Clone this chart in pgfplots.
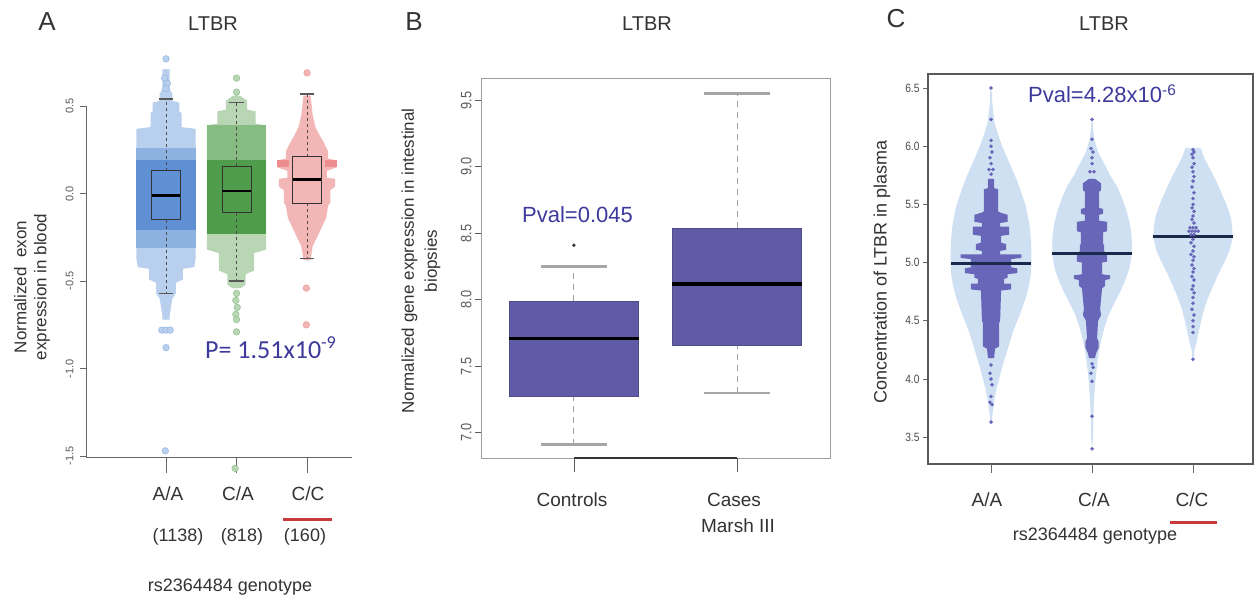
\documentclass[border=0pt]{standalone}
\usepackage{pgfplots}
\usepackage{pgfplotstable}
\pgfplotsset{compat=1.18}
\usepackage{fontspec}
\setmainfont{Liberation Sans}
\newfontfamily\carlito{Carlito}
\newfontfamily\narrow[FakeStretch=0.85]{Liberation Sans}

\definecolor{ptxt}{HTML}{3D3A9C}
\definecolor{boxB}{HTML}{5F5BA6}
\definecolor{violin}{HTML}{CFE0F3}
\definecolor{dots}{HTML}{6866B8}
\definecolor{medC}{HTML}{1B2A4C}
\definecolor{bl1}{HTML}{B8CFEE}
\definecolor{bl2}{HTML}{8DB2E2}
\definecolor{bl3}{HTML}{5E90D3}
\definecolor{gr1}{HTML}{B8D5B4}
\definecolor{gr2}{HTML}{86BC82}
\definecolor{gr3}{HTML}{4F9D4C}
\definecolor{rd1}{HTML}{F3B6B6}
\definecolor{rd2}{HTML}{EC8E8E}
\definecolor{capred}{HTML}{C8393C}
\definecolor{txt}{HTML}{333333}

% ---------- Panel A swarm outlines (y, half width) ----------
\pgfplotstableread{
y hw
0.71 -0.02
0.71 0.05
0.60 0.05
0.57 0.09
0.53 0.09
0.52 0.19
0.47 0.19
0.46 0.22
0.38 0.22
0.37 0.42
-0.37 0.42
-0.42 0.40
-0.43 0.24
-0.49 0.24
-0.51 0.14
-0.57 0.14
-0.60 0.09
-0.70 0.05
-0.72 0.05
-0.72 -0.02
}\AAouter
\pgfplotstableread{
y hw
0.56 -0.02
0.56 0.05
0.53 0.15
0.48 0.15
0.47 0.27
0.40 0.27
0.39 0.42
-0.32 0.42
-0.34 0.25
-0.44 0.25
-0.46 0.13
-0.52 0.13
-0.54 0.06
-0.54 -0.02
}\CAouter
\pgfplotstableread{
y hw
0.56 -0.02
0.56 0.05
0.45 0.08
0.38 0.12
0.34 0.17
0.29 0.24
0.24 0.30
0.20 0.30
0.19 0.42
0.15 0.42
0.13 0.28
0.09 0.28
0.085 0.40
0.04 0.40
0.02 0.33
-0.05 0.33
-0.07 0.30
-0.14 0.27
-0.20 0.20
-0.26 0.13
-0.30 0.08
-0.38 0.05
-0.38 -0.02
}\CCouter

% ---------- Panel C violins (y, half width) ----------
\pgfplotstableread{
y hw
6.50 -0.01
6.40 0.01
6.30 0.02
6.20 0.035
6.10 0.07
6.00 0.11
5.90 0.16
5.80 0.21
5.70 0.26
5.60 0.30
5.50 0.34
5.40 0.365
5.30 0.385
5.20 0.395
5.10 0.40
5.00 0.40
4.90 0.395
4.80 0.375
4.70 0.345
4.60 0.305
4.50 0.26
4.40 0.215
4.30 0.18
4.20 0.145
4.10 0.11
4.00 0.08
3.90 0.05
3.80 0.03
3.70 0.015
3.63 -0.01
}\AAv
\pgfplotstableread{
y hw
6.23 -0.01
6.15 0.01
6.05 0.025
5.95 0.06
5.85 0.12
5.75 0.18
5.65 0.25
5.55 0.30
5.45 0.34
5.35 0.37
5.25 0.39
5.15 0.395
5.05 0.39
4.95 0.37
4.85 0.33
4.75 0.28
4.65 0.22
4.55 0.165
4.45 0.125
4.35 0.095
4.25 0.072
4.15 0.055
4.05 0.04
3.95 0.03
3.80 0.018
3.60 0.01
3.40 -0.01
}\CAv
\pgfplotstableread{
y hw
5.985 -0.01
5.985 0.075
5.90 0.11
5.80 0.17
5.70 0.23
5.60 0.28
5.50 0.33
5.40 0.37
5.30 0.39
5.20 0.39
5.10 0.36
5.00 0.31
4.90 0.25
4.80 0.20
4.70 0.15
4.60 0.11
4.50 0.08
4.40 0.055
4.30 0.03
4.17 -0.01
}\CCv

% ---------- Panel C dot swarms (y, half width) ----------
\pgfplotstableread{
y hw
5.72 -0.01
5.72 0.03
5.64 0.03
5.63 0.07
5.44 0.07
5.43 0.09
5.41 0.165
5.35 0.165
5.34 0.09
5.31 0.09
5.31 0.18
5.24 0.18
5.23 0.10
5.17 0.10
5.16 0.15
5.11 0.15
5.10 0.09
5.07 0.09
5.07 0.30
5.04 0.30
5.03 0.20
4.96 0.20
4.95 0.26
4.91 0.26
4.90 0.165
4.87 0.165
4.86 0.13
4.82 0.13
4.82 0.20
4.77 0.20
4.76 0.10
4.50 0.09
4.48 0.08
4.28 0.08
4.26 0.04
4.18 0.03
4.18 -0.01
}\AAs
\pgfplotstableread{
y hw
5.72 -0.01
5.72 0.03
5.68 0.09
5.62 0.09
5.61 0.07
5.47 0.07
5.46 0.11
5.42 0.11
5.41 0.07
5.36 0.07
5.35 0.15
5.27 0.15
5.26 0.11
5.16 0.11
5.15 0.12
5.10 0.12
5.06 0.15
5.01 0.15
5.00 0.10
4.90 0.10
4.89 0.18
4.86 0.18
4.85 0.13
4.80 0.13
4.78 0.10
4.60 0.08
4.55 0.09
4.50 0.06
4.35 0.05
4.32 0.066
4.27 0.066
4.22 0.04
4.18 0.03
4.18 -0.01
}\CAs

\begin{document}
\begin{tikzpicture}
\useasboundingbox (0pt,0pt) rectangle (1254pt,598pt);
\fill[white] (0pt,0pt) rectangle (1254pt,598pt);

% ---------------- titles ----------------
\node[font=\fontsize{26}{30}\selectfont, text=txt] at (47pt,576pt) {A};
\node[font=\fontsize{20}{24}\selectfont, text=txt] at (213pt,574pt) {LTBR};
\node[font=\fontsize{26}{30}\selectfont, text=txt] at (414pt,576pt) {B};
\node[font=\fontsize{20}{24}\selectfont, text=txt] at (647pt,574pt) {LTBR};
\node[font=\fontsize{26}{30}\selectfont, text=txt] at (896pt,579pt) {C};
\node[font=\fontsize{20}{24}\selectfont, text=txt] at (1104pt,574pt) {LTBR};

% ================= Panel A =================
\begin{axis}[at={(86pt,141pt)}, anchor=south west, scale only axis,
  width=266pt, height=402pt,
  xmin=-0.1348, xmax=3.638, ymin=-1.505, ymax=0.792, clip=false,
  axis lines=left, axis line style={draw=none,-},
  xtick=\empty, ytick={-1.5,-1,-0.5,0,0.5},
  tick align=outside, major tick length=6pt,
  tick style={gray!80!black, line width=0.8pt},
  /pgf/number format/fixed, /pgf/number format/fixed zerofill,
  /pgf/number format/precision=1, /pgf/number format/assume math mode=true,
  yticklabel style={rotate=90, anchor=south, font=\fontsize{11}{11}\selectfont, text=black!65, yshift=3pt},
]
\draw[gray!80!black, line width=0.8pt] (axis cs:-0.1348,0.5) -- (axis cs:-0.1348,-1.505) -- (axis cs:3.638,-1.505);
\draw[gray!80!black, line width=0.8pt] (axis cs:1,-1.505) -- ++(0pt,-16pt);
\draw[gray!80!black, line width=0.8pt] (axis cs:2,-1.505) -- ++(0pt,-16pt);
\draw[gray!80!black, line width=0.8pt] (axis cs:3,-1.505) -- ++(0pt,-16pt);

% A/A swarm
\addplot[fill=bl1, draw=none] table[x expr=1+\thisrow{hw}, y=y] {\AAouter} -- cycle;
\addplot[fill=bl1, draw=none] table[x expr=1-\thisrow{hw}, y=y] {\AAouter} -- cycle;
\addplot[fill=bl2, draw=none] coordinates {(0.58,0.26)(1.42,0.26)(1.42,-0.31)(0.58,-0.31)} -- cycle;
\addplot[fill=bl3, draw=none] coordinates {(0.58,0.19)(1.42,0.19)(1.42,-0.21)(0.58,-0.21)} -- cycle;
% C/A swarm
\addplot[fill=gr1, draw=none] table[x expr=2+\thisrow{hw}, y=y] {\CAouter} -- cycle;
\addplot[fill=gr1, draw=none] table[x expr=2-\thisrow{hw}, y=y] {\CAouter} -- cycle;
\addplot[fill=gr2, draw=none] coordinates {(1.58,0.39)(2.42,0.39)(2.42,0.19)(1.58,0.19)} -- cycle;
\addplot[fill=gr3, draw=none] coordinates {(1.58,0.19)(2.42,0.19)(2.42,-0.23)(1.58,-0.23)} -- cycle;
% C/C swarm
\addplot[fill=rd1, draw=none] table[x expr=3+\thisrow{hw}, y=y] {\CCouter} -- cycle;
\addplot[fill=rd1, draw=none] table[x expr=3-\thisrow{hw}, y=y] {\CCouter} -- cycle;
\addplot[fill=rd2, draw=none] coordinates {(2.58,0.15)(2.75,0.15)(2.75,0.19)(2.58,0.19)} -- cycle;
\addplot[fill=rd2, draw=none] coordinates {(3.25,0.15)(3.42,0.15)(3.42,0.19)(3.25,0.19)} -- cycle;

% tail points
\addplot[only marks, mark=*, mark size=3.3pt, mark options={fill=bl1, draw=bl2}] coordinates {
(1,0.77)(0.98,0.66)(1.02,0.63)(1,0.60)(0.94,-0.78)(1,-0.78)(1.06,-0.78)(1.0,-0.88)(0.99,-1.47)};
\addplot[only marks, mark=*, mark size=3.3pt, mark options={fill=gr1, draw=gr2}] coordinates {
(2,0.66)(2,0.58)(2.0,-0.57)(1.99,-0.61)(2.01,-0.65)(1.99,-0.69)(2.0,-0.72)(2.0,-0.79)(1.98,-1.57)};
\addplot[only marks, mark=*, mark size=3.3pt, mark options={fill=rd1, draw=rd2}] coordinates {
(3,0.69)(2.99,-0.54)(2.99,-0.75)};

% whiskers (dashed)
\addplot[black!70, dash pattern=on 3pt off 3pt, line width=0.8pt] coordinates {(1,0.13)(1,0.54)};
\addplot[black!70, dash pattern=on 3pt off 3pt, line width=0.8pt] coordinates {(1,-0.15)(1,-0.57)};
\addplot[black!70, dash pattern=on 3pt off 3pt, line width=0.8pt] coordinates {(2,0.155)(2,0.52)};
\addplot[black!70, dash pattern=on 3pt off 3pt, line width=0.8pt] coordinates {(2,-0.11)(2,-0.50)};
\addplot[black!70, dash pattern=on 3pt off 3pt, line width=0.8pt] coordinates {(3,0.21)(3,0.57)};
\addplot[black!70, dash pattern=on 3pt off 3pt, line width=0.8pt] coordinates {(3,-0.055)(3,-0.37)};
% caps
\addplot[black!65, line width=1.6pt] coordinates {(0.9,0.54)(1.1,0.54)};
\addplot[black!65, line width=1.6pt] coordinates {(0.9,-0.57)(1.1,-0.57)};
\addplot[black!65, line width=1.6pt] coordinates {(1.9,0.52)(2.1,0.52)};
\addplot[black!65, line width=1.6pt] coordinates {(1.9,-0.50)(2.1,-0.50)};
\addplot[black!65, line width=1.6pt] coordinates {(2.9,0.57)(3.1,0.57)};
\addplot[black!65, line width=1.6pt] coordinates {(2.9,-0.37)(3.1,-0.37)};
% boxes
\addplot[black!80, line width=0.9pt] coordinates {(0.795,-0.15)(1.205,-0.15)(1.205,0.13)(0.795,0.13)} -- cycle;
\addplot[black!80, line width=0.9pt] coordinates {(1.795,-0.11)(2.205,-0.11)(2.205,0.155)(1.795,0.155)} -- cycle;
\addplot[black!80, line width=0.9pt] coordinates {(2.795,-0.055)(3.205,-0.055)(3.205,0.21)(2.795,0.21)} -- cycle;
% medians
\addplot[black, line width=2.8pt] coordinates {(0.795,-0.01)(1.205,-0.01)};
\addplot[black, line width=2.8pt] coordinates {(1.795,0.015)(2.205,0.015)};
\addplot[black, line width=2.8pt] coordinates {(2.795,0.08)(3.205,0.08)};
\end{axis}

\node[rotate=90, align=center, font=\fontsize{17}{20}\selectfont, text=txt] at (32pt,311pt) {Normalized\ \ exon\\expression in blood};
\node[anchor=base west, font=\carlito\fontsize{26}{30}\selectfont, text=ptxt, inner sep=0pt] at (205pt,240pt) {P= 1.51x10\textsuperscript{-9}};
\begin{scope}[font=\fontsize{19}{22}\selectfont, text=txt]
\node at (168pt,104pt) {A/A};
\node at (238pt,104pt) {C/A};
\node at (308pt,104pt) {C/C};
\end{scope}
\begin{scope}[font=\fontsize{18}{22}\selectfont, text=txt]
\node at (178pt,61pt) {(1138)};
\node at (242pt,61pt) {(818)};
\node at (305pt,61pt) {(160)};
\node at (230pt,11pt) {rs2364484 genotype};
\end{scope}
\draw[capred, line width=3pt] (283pt,79pt) -- (332pt,79pt);

% ================= Panel B =================
\begin{axis}[at={(481pt,140pt)}, anchor=south west, scale only axis,
  width=349pt, height=379pt,
  xmin=0.43, xmax=2.57, ymin=6.81, ymax=9.66, clip=false,
  axis line style={draw=gray!75, line width=1pt},
  xtick=\empty, ytick={7,7.5,8,8.5,9,9.5}, ytick pos=left,
  tick align=outside, major tick length=6pt,
  tick style={gray!70!black, line width=0.8pt},
  /pgf/number format/fixed, /pgf/number format/fixed zerofill,
  /pgf/number format/precision=1, /pgf/number format/assume math mode=true,
  yticklabel style={rotate=90, anchor=south, font=\narrow\fontsize{15}{15}\selectfont, text=black!65},
]
\draw[gray!40!black, line width=1.6pt] (axis cs:1,6.81) -- (axis cs:2,6.81);
\draw[gray!70!black, line width=0.8pt] (axis cs:1,6.81) -- ++(0pt,-14pt);
\draw[gray!70!black, line width=0.8pt] (axis cs:2,6.81) -- ++(0pt,-14pt);
% whiskers
\addplot[gray!75, dash pattern=on 6pt off 5pt, line width=1pt] coordinates {(1,7.99)(1,8.25)};
\addplot[gray!75, dash pattern=on 6pt off 5pt, line width=1pt] coordinates {(1,6.91)(1,7.27)};
\addplot[gray!75, dash pattern=on 6pt off 5pt, line width=1pt] coordinates {(2,8.54)(2,9.55)};
\addplot[gray!75, dash pattern=on 6pt off 5pt, line width=1pt] coordinates {(2,7.30)(2,7.66)};
\addplot[gray!70, line width=2.5pt] coordinates {(0.8,8.25)(1.2,8.25)};
\addplot[gray!70, line width=2.5pt] coordinates {(0.8,6.91)(1.2,6.91)};
\addplot[gray!70, line width=2.5pt] coordinates {(1.8,9.55)(2.2,9.55)};
\addplot[gray!70, line width=2.5pt] coordinates {(1.8,7.30)(2.2,7.30)};
% boxes
\addplot[fill=boxB, draw=boxB!85!black, line width=0.8pt] coordinates {(0.604,7.27)(1.396,7.27)(1.396,7.99)(0.604,7.99)} -- cycle;
\addplot[fill=boxB, draw=boxB!85!black, line width=0.8pt] coordinates {(1.604,7.66)(2.396,7.66)(2.396,8.54)(1.604,8.54)} -- cycle;
\addplot[black, line width=3.5pt] coordinates {(0.604,7.71)(1.396,7.71)};
\addplot[black, line width=3.5pt] coordinates {(1.604,8.12)(2.396,8.12)};
% outlier
\addplot[only marks, mark=*, mark size=1.5pt, gray!40!black] coordinates {(1,8.41)};
\end{axis}

\node[rotate=90, align=center, font=\fontsize{17}{23}\selectfont, text=txt] at (421pt,337pt) {Normalized gene expression in intestinal\\biopsies};
\node[anchor=base west, font=\fontsize{22}{26}\selectfont, text=ptxt, inner sep=0pt] at (522pt,375pt) {Pval=0.045};
\begin{scope}[font=\fontsize{19}{22}\selectfont, text=txt]
\node at (572pt,98pt) {Controls};
\node at (734pt,98pt) {Cases};
\node at (738pt,72pt) {Marsh III};
\end{scope}

% ================= Panel C =================
\begin{axis}[at={(928pt,134pt)}, anchor=south west, scale only axis,
  width=325pt, height=390pt,
  xmin=0.376, xmax=3.594, ymin=3.27, ymax=6.62, clip=false,
  axis line style={draw=black!65, line width=1.2pt},
  xtick=\empty, ytick={3.5,4,4.5,5,5.5,6,6.5}, ytick pos=left,
  tick align=outside, major tick length=5pt,
  tick style={black!60, line width=0.8pt},
  /pgf/number format/fixed, /pgf/number format/fixed zerofill,
  /pgf/number format/precision=1, /pgf/number format/assume math mode=true,
  yticklabel style={font=\narrow\fontsize{12}{12}\selectfont, text=black!70},
]
\draw[black!60, line width=0.8pt] (axis cs:1,3.27) -- ++(0pt,-9pt);
\draw[black!60, line width=0.8pt] (axis cs:2,3.27) -- ++(0pt,-9pt);
\draw[black!60, line width=0.8pt] (axis cs:3,3.27) -- ++(0pt,-9pt);
% violins
\addplot[fill=violin, draw=none] table[x expr=1+\thisrow{hw}, y=y] {\AAv} -- cycle;
\addplot[fill=violin, draw=none] table[x expr=1-\thisrow{hw}, y=y] {\AAv} -- cycle;
\addplot[fill=violin, draw=none] table[x expr=2+\thisrow{hw}, y=y] {\CAv} -- cycle;
\addplot[fill=violin, draw=none] table[x expr=2-\thisrow{hw}, y=y] {\CAv} -- cycle;
\addplot[fill=violin, draw=none] table[x expr=3+\thisrow{hw}, y=y] {\CCv} -- cycle;
\addplot[fill=violin, draw=none] table[x expr=3-\thisrow{hw}, y=y] {\CCv} -- cycle;
% dot swarms
\addplot[fill=dots, draw=none] table[x expr=1+\thisrow{hw}, y=y] {\AAs} -- cycle;
\addplot[fill=dots, draw=none] table[x expr=1-\thisrow{hw}, y=y] {\AAs} -- cycle;
\addplot[fill=dots, draw=none] table[x expr=2+\thisrow{hw}, y=y] {\CAs} -- cycle;
\addplot[fill=dots, draw=none] table[x expr=2-\thisrow{hw}, y=y] {\CAs} -- cycle;
\addplot[only marks, mark=*, mark size=1.6pt, dots] coordinates {
(1,6.50)(1,6.23)(1,6.05)(1,6.0)(1.01,5.95)(0.99,5.9)(1,5.85)(0.98,5.80)(1.02,5.80)(1,5.76)
(1,4.12)(0.99,4.05)(1.0,4.0)(1.01,3.95)(1,3.85)(0.99,3.80)(1.01,3.78)(1,3.63)};
\addplot[only marks, mark=*, mark size=1.6pt, dots] coordinates {
(2,6.23)(2,6.06)(1.99,5.98)(2.01,5.95)(2,5.90)(2,5.85)(1.98,5.78)(2.02,5.78)
(2,4.13)(2.01,4.10)(1.99,4.05)(2,3.98)(2,3.68)(2,3.40)};
\addplot[only marks, mark=*, mark size=1.6pt, dots] coordinates {
(3,5.97)(3.01,5.95)(2.99,5.93)(3,5.90)(3.01,5.85)(2.99,5.82)(3,5.78)(3.01,5.74)(3,5.70)
(2.99,5.65)(3.01,5.60)(3,5.55)(3,5.50)(2.99,5.47)(3.01,5.44)(3,5.40)(2.99,5.37)(3.01,5.34)
(2.97,5.30)(3.0,5.30)(3.03,5.30)(2.96,5.27)(2.99,5.27)(3.02,5.27)(3.05,5.27)(2.98,5.24)
(3.01,5.24)(3,5.20)(2.98,5.17)(3.01,5.14)(3,5.10)(2.98,5.07)(3.01,5.05)(3,5.02)(2.99,4.98)
(3.01,4.95)(3,4.92)(2.99,4.88)(3.01,4.85)(3,4.80)(2.99,4.77)(3.01,4.74)(3,4.70)(3,4.65)
(2.99,4.60)(3.01,4.55)(3,4.50)(3,4.45)(3,4.40)(3,4.17)};
% medians
\addplot[medC, line width=3pt] coordinates {(0.603,4.99)(1.40,4.99)};
\addplot[medC, line width=3pt] coordinates {(1.604,5.08)(2.396,5.08)};
\addplot[medC, line width=3pt] coordinates {(2.60,5.22)(3.40,5.22)};
\end{axis}

\node[rotate=90, font=\fontsize{18}{22}\selectfont, text=txt] at (882pt,326pt) {Concentration of LTBR in plasma};
\node[anchor=base west, font=\fontsize{22}{26}\selectfont, text=ptxt, inner sep=0pt] at (1028pt,495pt) {Pval=4.28x10\textsuperscript{-6}};
\begin{scope}[font=\fontsize{19}{22}\selectfont, text=txt]
\node at (987pt,98pt) {A/A};
\node at (1094pt,98pt) {C/A};
\node at (1192pt,98pt) {C/C};
\end{scope}
\node[font=\fontsize{18}{22}\selectfont, text=txt] at (1095pt,62pt) {rs2364484 genotype};
\draw[capred, line width=3pt] (1170pt,76pt) -- (1217pt,76pt);
\end{tikzpicture}
\end{document}
